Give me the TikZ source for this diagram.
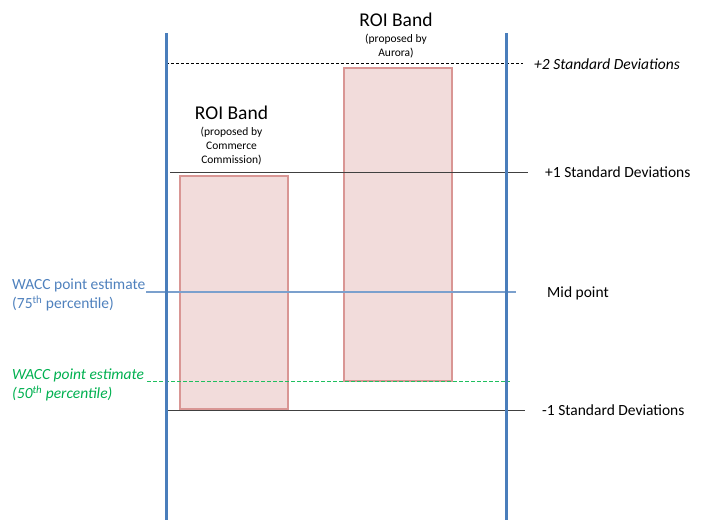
\documentclass[tikz,border=0pt]{standalone}
\usepackage{fontspec}
\setmainfont{Carlito}
\definecolor{vblue}{HTML}{4A7EBB}
\definecolor{midblue}{HTML}{7BA0CD}
\definecolor{txtblue}{HTML}{4F81BD}
\definecolor{wgreen}{HTML}{00B050}
\definecolor{dgreen}{HTML}{1FBF5F}
\definecolor{bandfill}{HTML}{F2DCDB}
\definecolor{bandline}{HTML}{D99694}
\definecolor{refline}{HTML}{404040}
\begin{document}
\begin{tikzpicture}[x=1pt,y=-1pt,
  vline/.style={draw=vblue,line width=3pt},
  sdline/.style={draw=refline,line width=0.9pt},
  band/.style={draw=bandline,fill=bandfill,line width=2pt},
  lbl/.style={inner sep=0pt,anchor=base west,font=\fontsize{15.5}{19}\selectfont},
  title/.style={inner sep=0pt,anchor=base,font=\fontsize{19.5}{22}\selectfont},
  sub/.style={inner sep=0pt,anchor=base,align=center,font=\fontsize{11.5}{13.7}\selectfont}]
\useasboundingbox (0,0) rectangle (707,520);
% bands
\node[band,minimum width=108pt,minimum height=232.7pt,inner sep=0pt,anchor=north west] (cc) at (179,175) {};
\node[band,minimum width=108pt,minimum height=313.3pt,inner sep=0pt,anchor=north west] (au) at (342.5,66.7) {};
% vertical lines
\coordinate (lt) at (166.5,33); \coordinate (lb) at (166.5,520);
\coordinate (rt) at (506.5,33); \coordinate (rb) at (506.5,520);
% reference lines
\coordinate (p2a) at (166,63); \coordinate (p2b) at (523,63);
\draw[black,line width=0.9pt,dash pattern=on 3pt off 2pt] (p2a) -- (p2b);
\coordinate (p1a) at (170,172); \coordinate (p1b) at (528,172);
\draw[sdline] (p1a) -- (p1b);
\coordinate (ma) at (146,292); \coordinate (mb) at (516,292);
\draw[draw=midblue,line width=1.1pt] (ma) -- (mb);
\coordinate (ga) at (147,381.5); \coordinate (gb) at (510,381.5);
\draw[draw=dgreen,line width=1.3pt,dash pattern=on 3.5pt off 2.5pt] (ga) -- (gb);
\coordinate (m1a) at (167,410.5); \coordinate (m1b) at (525,410.5);
\draw[sdline] (m1a) -- (m1b);
\draw[vline] (lt) -- (lb);
\draw[vline] (rt) -- (rb);
% right labels
\node[lbl,font=\fontsize{15.5}{19}\selectfont\itshape] (l2) at (534,69.3) {+2 Standard Deviations};
\node[lbl] (l1) at (545,177) {+1 Standard Deviations};
\node[lbl] (lm) at (547,297.3) {Mid point};
\node[lbl] (lm1) at (542,415.7) {-1 Standard Deviations};
% left labels (base anchor = last line baseline)
\node[lbl,text=txtblue,align=left] (w75) at (12,308.3) {WACC point estimate\\(75\textsuperscript{th} percentile)};
\node[lbl,text=wgreen,align=left,font=\fontsize{15.5}{19}\selectfont\itshape] (w50) at (12,398.3) {WACC point estimate\\(50\textsuperscript{th} percentile)};
% band titles
\node[title] (t2) at (396,26.7) {ROI Band};
\node[sub] (s2) at (396,56.5) {(proposed by\\Aurora)};
\node[title] (t1) at (231.5,119.3) {ROI Band};
\node[sub] (s1) at (231.5,163.3) {(proposed by\\Commerce\\Commission)};
\end{tikzpicture}
\end{document}
